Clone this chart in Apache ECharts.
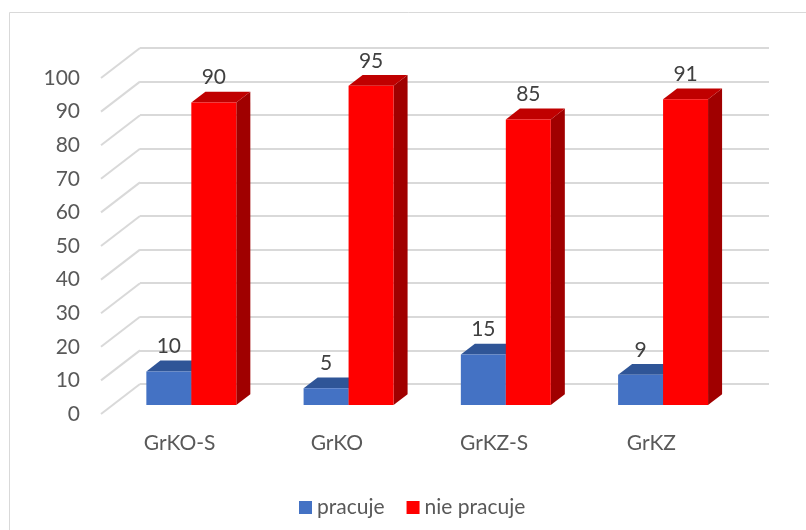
<!DOCTYPE html>
<html>
<head>
<meta charset="utf-8">
<script src="https://cdn.jsdelivr.net/npm/echarts@6/dist/echarts.min.js"></script>
<style>
  html, body { margin: 0; padding: 0; background: #fff; }
  #chart { width: 806px; height: 530px; }
</style>
</head>
<body>
<div id="chart"></div>
<script>
const categories = ['GrKO-S', 'GrKO', 'GrKZ-S', 'GrKZ']
const pracuje = [10, 5, 15, 9]
const niePracuje = [90, 95, 85, 91]
const yTicks = [0, 10, 20, 30, 40, 50, 60, 70, 80, 90, 100]

const FONT = 'Lato, "Open Sans", sans-serif'
// side wall depth, back -> front, in px
const WALL = [-39, 30]
const BAR_FRONT = 0.7
const BAR_BACK = 0.34
const BAR_W = 0.286

// 3d-looking column: front face, top face, right side face
const makeBar = (side, cFront, cTop, cSide) => (params, api) => {
  const idx = api.value(0)
  const v = api.value(1)
  const base = api.coord([idx, 0])
  const peak = api.coord([idx, v])
  const w = api.size([1, 0])[0] * BAR_W
  const fx = WALL[0] * BAR_FRONT, fy = WALL[1] * BAR_FRONT
  const dx = WALL[0] * (BAR_BACK - BAR_FRONT), dy = WALL[1] * (BAR_BACK - BAR_FRONT)
  const x0 = base[0] + fx + (side < 0 ? -w : 0)
  const x1 = x0 + w
  const yb = base[1] + fy
  const yt = peak[1] + fy
  return {
    type: 'group',
    children: [
      {
        type: 'polygon',
        shape: { points: [[x1, yb], [x1 + dx, yb + dy], [x1 + dx, yt + dy], [x1, yt]] },
        style: { fill: cSide }
      },
      {
        type: 'polygon',
        shape: { points: [[x0, yt], [x0 + dx, yt + dy], [x1 + dx, yt + dy], [x1, yt]] },
        style: { fill: cTop }
      },
      {
        type: 'rect',
        shape: { x: x0, y: yt, width: w, height: yb - yt },
        style: { fill: cFront }
      },
      {
        type: 'text',
        style: {
          text: String(v),
          x: (x0 + x1) / 2,
          y: yt - 25,
          align: 'center',
          verticalAlign: 'middle',
          fontFamily: FONT,
          fontSize: 21,
          fill: '#404040'
        }
      }
    ]
  }
}

const chart = echarts.init(document.getElementById('chart'))

const option = {
  backgroundColor: '#fff',
  animation: false,
  graphic: [
    {
      type: 'rect',
      shape: { x: 9.5, y: 12.5, width: 1000, height: 1000 },
      style: { fill: 'none', stroke: '#d9d9d9', lineWidth: 1 },
      z: -10
    }
  ],
  legend: {
    data: ['pracuje', 'nie pracuje'],
    left: 294,
    top: 492,
    icon: 'rect',
    itemWidth: 13,
    itemHeight: 13,
    itemGap: 22,
    textStyle: { fontFamily: FONT, fontSize: 21, color: '#595959' }
  },
  grid: [
    // back wall
    { left: 140, right: 37, top: 48, bottom: 146 },
    // front edge (labels only)
    { left: 101, right: 76, top: 78, bottom: 116 }
  ],
  xAxis: [
    {
      gridIndex: 0,
      type: 'category',
      data: categories,
      axisLine: { show: false },
      axisTick: { show: false },
      axisLabel: { show: false }
    },
    {
      gridIndex: 1,
      type: 'category',
      data: categories,
      axisLine: { show: false },
      axisTick: { show: false },
      axisLabel: { margin: 19, fontFamily: FONT, fontSize: 21, color: '#595959' }
    }
  ],
  yAxis: [
    {
      gridIndex: 0,
      type: 'value',
      min: 0,
      max: 100,
      interval: 10,
      axisLine: { show: false },
      axisTick: { show: false },
      axisLabel: { show: false },
      splitLine: { lineStyle: { color: '#d9d9d9', width: 2 } }
    },
    {
      gridIndex: 1,
      type: 'value',
      min: 0,
      max: 100,
      interval: 10,
      axisLine: { show: false },
      axisTick: { show: false },
      splitLine: { show: false },
      axisLabel: { margin: 21, fontFamily: FONT, fontSize: 21, color: '#595959' }
    }
  ],
  series: [
    {
      // side wall gridlines
      type: 'custom',
      xAxisIndex: 0,
      yAxisIndex: 0,
      silent: true,
      clip: false,
      data: yTicks.map(t => [0, t]),
      renderItem: (params, api) => {
        const x = params.coordSys.x
        const y = api.coord([0, api.value(1)])[1]
        return {
          type: 'line',
          shape: { x1: x, y1: y, x2: x + WALL[0], y2: y + WALL[1] },
          style: { stroke: '#d9d9d9', lineWidth: 2 }
        }
      },
      z: 1
    },
    {
      name: 'pracuje',
      type: 'custom',
      xAxisIndex: 0,
      yAxisIndex: 0,
      clip: false,
      itemStyle: { color: '#4472C4' },
      data: pracuje.map((v, i) => [i, v]),
      renderItem: makeBar(-1, '#4472C4', '#2F5597', '#2F5597'),
      z: 2
    },
    {
      name: 'nie pracuje',
      type: 'custom',
      xAxisIndex: 0,
      yAxisIndex: 0,
      clip: false,
      itemStyle: { color: '#FF0000' },
      data: niePracuje.map((v, i) => [i, v]),
      renderItem: makeBar(1, '#FF0000', '#C00000', '#A00000'),
      z: 3
    }
  ]
}

chart.setOption(option)
window.addEventListener('resize', () => chart.resize())
</script>
</body>
</html>
